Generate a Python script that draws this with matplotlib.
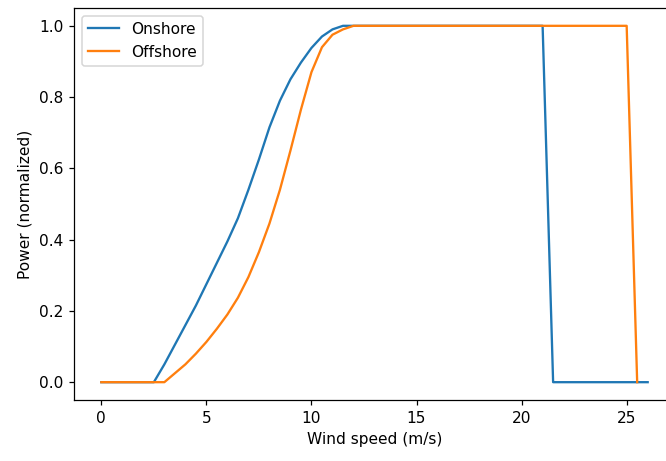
import matplotlib
matplotlib.use("Agg")
import matplotlib.pyplot as plt

# Wind speed grid (m/s)
onshore_speed = [0.0, 0.5, 1.0, 1.5, 2.0, 2.5, 3.0, 3.5, 4.0, 4.5, 5.0, 5.5, 6.0,
                 6.5, 7.0, 7.5, 8.0, 8.5, 9.0, 9.5, 10.0, 10.5, 11.0, 11.5, 12.0,
                 12.5, 13.0, 13.5, 14.0, 14.5, 15.0, 15.5, 16.0, 16.5, 17.0, 17.5,
                 18.0, 18.5, 19.0, 19.5, 20.0, 20.5, 21.0, 21.5, 22.0, 22.5, 23.0,
                 23.5, 24.0, 24.5, 25.0, 25.5, 26.0]
onshore_power = [0, 0, 0, 0, 0, 0, 0.05, 0.105, 0.16, 0.215, 0.275, 0.335, 0.395,
                 0.46, 0.54, 0.625, 0.715, 0.79, 0.85, 0.897, 0.938, 0.97, 0.99, 1.0,
                 1.0, 1.0, 1.0, 1.0, 1.0, 1.0, 1.0, 1.0, 1.0, 1.0, 1.0, 1.0,
                 1.0, 1.0, 1.0, 1.0, 1.0, 1.0, 1.0, 0, 0, 0, 0,
                 0, 0, 0, 0, 0, 0]

offshore_speed = [0.0, 0.5, 1.0, 1.5, 2.0, 2.5, 3.0, 3.5, 4.0, 4.5, 5.0, 5.5, 6.0,
                  6.5, 7.0, 7.5, 8.0, 8.5, 9.0, 9.5, 10.0, 10.5, 11.0, 11.5, 12.0,
                  12.5, 13.0, 13.5, 14.0, 14.5, 15.0, 15.5, 16.0, 16.5, 17.0, 17.5,
                  18.0, 18.5, 19.0, 19.5, 20.0, 20.5, 21.0, 21.5, 22.0, 22.5, 23.0,
                  23.5, 24.0, 24.5, 25.0, 25.5]
offshore_power = [0, 0, 0, 0, 0, 0, 0, 0.025, 0.05, 0.08, 0.113, 0.15, 0.19,
                  0.237, 0.295, 0.365, 0.445, 0.54, 0.65, 0.765, 0.87, 0.94, 0.975, 0.99,
                  1.0, 1.0, 1.0, 1.0, 1.0, 1.0, 1.0, 1.0, 1.0, 1.0, 1.0, 1.0,
                  1.0, 1.0, 1.0, 1.0, 1.0, 1.0, 1.0, 1.0, 1.0, 1.0, 1.0,
                  1.0, 1.0, 1.0, 1.0, 0]

fig = plt.figure(figsize=(6.0, 461 / 111), dpi=111)
# the original screenshot is cut off on the right, so the axes run past the edge
ax = fig.add_axes([74 / 666, 61 / 461, 601 / 666, 392 / 461])

ax.plot(onshore_speed, onshore_power, label="Onshore")
ax.plot(offshore_speed, offshore_power, label="Offshore")

ax.set_xlabel("Wind speed (m/s)")
ax.set_ylabel("Power (normalized)")
ax.legend(loc="upper left")

fig.savefig("out.png", dpi=111)
